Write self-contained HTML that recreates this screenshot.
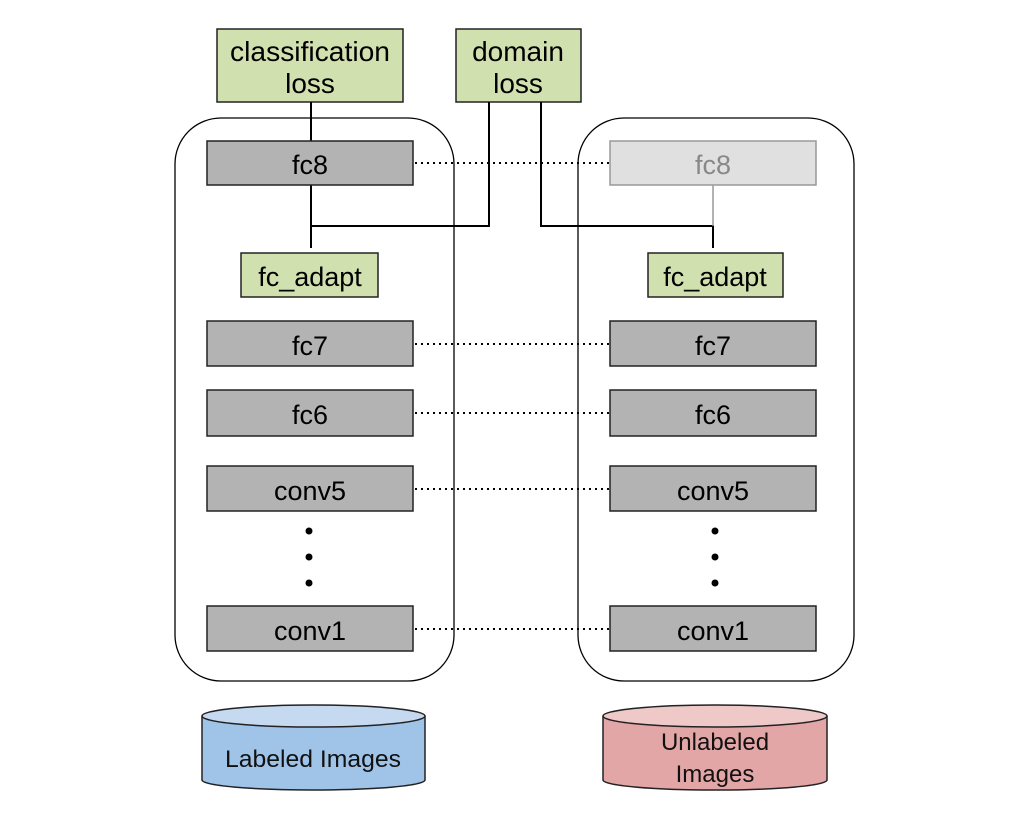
<!DOCTYPE html>
<html><head><meta charset="utf-8"><style>
html,body{margin:0;padding:0;background:#fff;width:1028px;height:817px;overflow:hidden}
svg text{font-family:"Liberation Sans",Arial,sans-serif}
</style></head><body>
<svg width="1028" height="817" viewBox="0 0 1028 817" xmlns="http://www.w3.org/2000/svg">
<rect x="175" y="118" width="279" height="563" rx="46" fill="none" stroke="#000" stroke-width="1.3"/>
<rect x="578" y="118" width="276" height="563" rx="46" fill="none" stroke="#000" stroke-width="1.3"/>
<rect x="217" y="29" width="186" height="73" fill="#d0e0ae" stroke="#222" stroke-width="1.5"/>
<text x="310" y="61" font-size="28" text-anchor="middle" textLength="160" lengthAdjust="spacingAndGlyphs">classification</text>
<text x="310" y="93" font-size="28" text-anchor="middle">loss</text>
<rect x="456" y="29" width="125" height="73" fill="#d0e0ae" stroke="#222" stroke-width="1.5"/>
<text x="518" y="61" font-size="28" text-anchor="middle">domain</text>
<text x="518" y="93" font-size="28" text-anchor="middle">loss</text>
<g stroke="#000" stroke-width="2" fill="none">
<line x1="311" y1="102" x2="311" y2="141"/>
<polyline points="311,185 311,248"/>
<polyline points="311,226 489,226 489,102"/>
<polyline points="541,102 541,226 713,226 713,248"/>
</g>
<line x1="713" y1="185" x2="713" y2="226" stroke="#999" stroke-width="1.5"/>
<g stroke="#000" stroke-width="2" stroke-dasharray="2,4">
<line x1="415" y1="163" x2="610" y2="163"/>
<line x1="415" y1="344" x2="610" y2="344"/>
<line x1="415" y1="413" x2="610" y2="413"/>
<line x1="415" y1="489" x2="610" y2="489"/>
<line x1="415" y1="629" x2="610" y2="629"/>
</g>
<rect x="207" y="141" width="206" height="44" fill="#b3b3b3" stroke="#222" stroke-width="1.5"/>
<text x="310" y="174" font-size="27" text-anchor="middle">fc8</text>
<rect x="610" y="141" width="206" height="44" fill="#e0e0e0" stroke="#999" stroke-width="1.5"/>
<text x="713" y="174" font-size="27" text-anchor="middle" fill="#888">fc8</text>
<rect x="241" y="253" width="137" height="44" fill="#d0e0ae" stroke="#222" stroke-width="1.5"/>
<text x="310" y="286" font-size="27" text-anchor="middle">fc_adapt</text>
<rect x="648" y="253" width="135" height="44" fill="#d0e0ae" stroke="#222" stroke-width="1.5"/>
<text x="715" y="286" font-size="27" text-anchor="middle">fc_adapt</text>
<g fill="#b3b3b3" stroke="#222" stroke-width="1.5">
<rect x="207" y="321" width="206" height="45"/>
<rect x="207" y="390" width="206" height="46"/>
<rect x="207" y="466" width="206" height="45"/>
<rect x="207" y="606" width="206" height="45"/>
<rect x="610" y="321" width="206" height="45"/>
<rect x="610" y="390" width="206" height="46"/>
<rect x="610" y="466" width="206" height="45"/>
<rect x="610" y="606" width="206" height="45"/>
</g>
<g font-size="27" text-anchor="middle">
<text x="310" y="355">fc7</text><text x="310" y="424">fc6</text><text x="310" y="500">conv5</text><text x="310" y="640">conv1</text>
<text x="713" y="355">fc7</text><text x="713" y="424">fc6</text><text x="713" y="500">conv5</text><text x="713" y="640">conv1</text>
</g>
<g fill="#000">
<circle cx="309" cy="531" r="3.5"/><circle cx="309" cy="557" r="3.5"/><circle cx="309" cy="583" r="3.5"/>
<circle cx="715" cy="531" r="3.5"/><circle cx="715" cy="557" r="3.5"/><circle cx="715" cy="583" r="3.5"/>
</g>
<path d="M202,716 L202,780 A111.5,10 0 0 0 425,780 L425,716" fill="#a0c3e8" stroke="#222" stroke-width="1.5"/>
<ellipse cx="313.5" cy="716" rx="111.5" ry="11" fill="#c5daf1" stroke="#222" stroke-width="1.5"/>
<text x="313" y="767" font-size="24" text-anchor="middle" fill="#111" textLength="176" lengthAdjust="spacingAndGlyphs">Labeled Images</text>
<path d="M603,716 L603,780 A112,10 0 0 0 827,780 L827,716" fill="#e3a6a6" stroke="#222" stroke-width="1.5"/>
<ellipse cx="715" cy="716" rx="112" ry="11" fill="#efc8c8" stroke="#222" stroke-width="1.5"/>
<text x="715" y="750" font-size="24" text-anchor="middle" fill="#111">Unlabeled</text>
<text x="715" y="782" font-size="24" text-anchor="middle" fill="#111">Images</text>
</svg>
</body></html>
